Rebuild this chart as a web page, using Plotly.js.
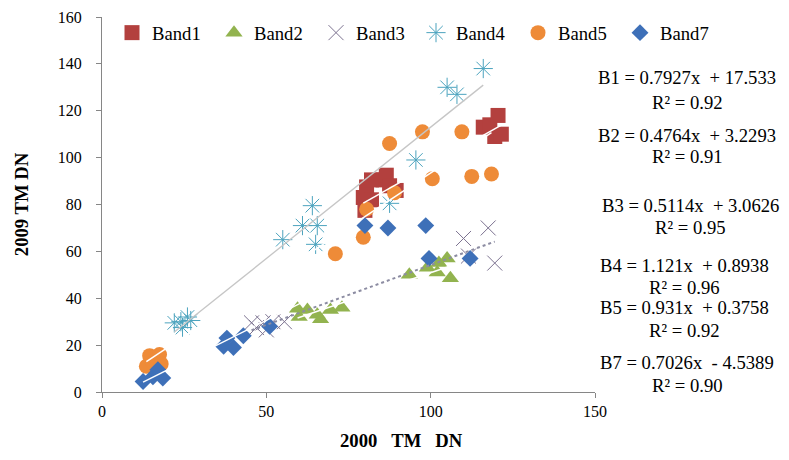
<!DOCTYPE html>
<html>
<head>
<meta charset="utf-8">
<script src="https://cdn.plot.ly/plotly-3.0.1.min.js"></script>
<style>html,body{margin:0;padding:0;background:#fff;}#chart{width:789px;height:460px;}</style>
</head>
<body>
<div id="chart"></div>
<script>
// ---- data ----
const band1X = [79.5, 80, 80.5, 82, 82, 85.5, 86.5, 87.5, 89.5, 116, 118, 120.5, 119.5, 121.5];
const band1Y = [83, 77.5, 87.5, 82, 90.5, 90.5, 92.5, 88, 86, 113, 114, 118, 109, 110];
const band2X = [59.5, 60, 62.5, 65.5, 66.5, 69.5, 73, 93.5, 99, 102, 102.5, 105, 106];
const band2Y = [35.5, 32, 35, 33, 31, 35, 36, 50, 53, 51, 55, 57, 48.5];
const band3X = [45.5, 47, 49, 50, 52, 55.5, 110, 117.5, 119.5, 111.5];
const band3Y = [29.5, 27.5, 29.5, 26.5, 30, 30, 65.5, 70, 55, 58];
const band4X = [22, 24, 24.5, 26, 27, 55, 61, 64, 65.5, 65, 87.5, 95.5, 105, 108, 116];
const band4Y = [29.5, 30, 27.5, 32, 30.5, 65, 71, 79.5, 71, 63, 80.5, 99, 130, 127, 138];
const band5X = [13.5, 14.5, 15.5, 16.5, 17.5, 18, 71, 79.5, 80.5, 87.5, 89, 97.5, 100.5, 109.5, 112.5, 118.5];
const band5Y = [11, 15.5, 12.5, 14, 16, 12, 59, 66, 78, 106, 85, 111, 91, 111, 92, 93];
const band7X = [12.5, 15.5, 17, 18.5, 37, 38, 40, 43, 51, 80, 87, 98.5, 99.5, 112];
const band7Y = [4.5, 6.5, 9.5, 6, 19.5, 23, 19, 24, 28, 71, 70, 71, 57, 57];

const bandNames = ['Band1', 'Band2', 'Band3', 'Band4', 'Band5', 'Band7'];
const eqLabels = ['B1', 'B2', 'B3', 'B4', 'B5', 'B7'];
const slopes = [0.7927, 0.4764, 0.5114, 1.121, 0.931, 0.7026];
const intercepts = [17.533, 3.2293, 3.0626, 0.8938, 0.3758, -4.5389];
const slopeText = ['0.7927', '0.4764', '0.5114', '1.121', '0.931', '0.7026'];
const interceptText = ['+ 17.533', '+ 3.2293', '+ 3.0626', '+ 0.8938', '+ 0.3758', '- 4.5389'];
const r2Text = ['0.92', '0.91', '0.95', '0.96', '0.92', '0.90'];

const xTickVals = [0, 50, 100, 150];
const yTickVals = [0, 20, 40, 60, 80, 100, 120, 140, 160];

// ---- styles ----
const allX = [band1X, band2X, band3X, band4X, band5X, band7X];
const allY = [band1Y, band2Y, band3Y, band4Y, band5Y, band7Y];
const markerStyles = [
  {symbol: 'square', size: 15, color: '#B3403E'},
  {symbol: 'triangle-up', size: 15, color: '#92B34F'},
  {symbol: 'x-thin-open', size: 15, color: '#7C7290', line: {width: 1, color: '#7C7290'}},
  {symbol: 'asterisk-open', size: 16, color: '#4BA3BE', line: {width: 1, color: '#4BA3BE'}},
  {symbol: 'circle', size: 15, color: '#EE8B38'},
  {symbol: 'diamond', size: 13, color: '#3E70B8'}
];
const legendOf = ['legend', 'legend', 'legend', 'legend2', 'legend2', 'legend2'];
const lineStyles = [
  {color: '#FFFFFF', width: 1.5},
  {color: '#FFFFFF', width: 1.5},
  {color: '#8C8CA2', width: 2, dash: 'dot'},
  {color: '#C6C6C6', width: 1.3},
  {color: '#FFFFFF', width: 1.5},
  {color: '#FFFFFF', width: 1.5}
];

const traces = [];
for (let i = 0; i < bandNames.length; i++) {
  traces.push({
    type: 'scatter', mode: 'markers', name: bandNames[i], legend: legendOf[i],
    x: allX[i], y: allY[i], marker: markerStyles[i]
  });
}
// trendlines (linear fits, across each series' x range)
for (let i = 0; i < bandNames.length; i++) {
  const x0 = Math.min(...allX[i]);
  const x1 = Math.max(...allX[i]);
  traces.push({
    type: 'scatter', mode: 'lines', showlegend: false, hoverinfo: 'skip',
    x: [x0, x1], y: [slopes[i] * x0 + intercepts[i], slopes[i] * x1 + intercepts[i]],
    line: lineStyles[i]
  });
}

// plot area: x 102..595 px, y 17..392 px
const L = 102, R = 595, T = 17, B = 392;
const px = v => (v - L) / (R - L);
const py = v => (B - v) / (B - T);
const serif = 'Liberation Serif, Times New Roman, serif';
const big = 18.67;

const eqRows = [[78, 102], [135, 157], [205, 227], [265, 287], [307, 330], [362, 385]];
const eqX = [687, 687, 690, 684, 684, 687];
const annotations = [];
for (let i = 0; i < eqLabels.length; i++) {
  annotations.push({
    xref: 'paper', yref: 'paper', x: px(eqX[i]), y: py(eqRows[i][0]),
    xanchor: 'center', yanchor: 'middle', showarrow: false,
    text: eqLabels[i] + ' = ' + slopeText[i] + 'x\u00a0 ' + interceptText[i],
    font: {family: serif, size: big, color: '#000'}
  });
  annotations.push({
    xref: 'paper', yref: 'paper', x: px(eqX[i]), y: py(eqRows[i][1]),
    xanchor: 'center', yanchor: 'middle', showarrow: false,
    text: 'R² = ' + r2Text[i],
    font: {family: serif, size: big, color: '#000'}
  });
}
annotations.push({
  xref: 'paper', yref: 'paper', x: px(401), y: py(440),
  xanchor: 'center', yanchor: 'middle', showarrow: false,
  text: '<b>2000\u00a0\u00a0\u00a0TM\u00a0\u00a0\u00a0DN</b>',
  font: {family: serif, size: big, color: '#000'}
});

const legendBase = {
  orientation: 'h', y: py(33), xanchor: 'left', yanchor: 'middle',
  bgcolor: 'rgba(0,0,0,0)', borderwidth: 0,
  font: {family: serif, size: big, color: '#000'},
  entrywidth: 57, entrywidthmode: 'pixels', tracegroupgap: 0
};

const layout = {
  width: 789, height: 460,
  margin: {l: L, r: 789 - R, t: T, b: 460 - B, pad: 0, autoexpand: false},
  paper_bgcolor: '#fff', plot_bgcolor: '#fff',
  font: {family: serif, size: 16, color: '#000'},
  showlegend: true,
  legend: Object.assign({}, legendBase, {x: px(112)}),
  legend2: Object.assign({}, legendBase, {x: px(416)}),
  xaxis: {
    range: [0, 150], tickvals: xTickVals, showgrid: false, zeroline: false,
    showline: true, linecolor: '#868686', linewidth: 1,
    ticks: 'outside', ticklen: 5, tickcolor: '#868686',
    tickfont: {family: serif, size: 16, color: '#000'}
  },
  yaxis: {
    range: [0, 160], tickvals: yTickVals, showgrid: false, zeroline: false,
    showline: true, linecolor: '#868686', linewidth: 1,
    ticks: 'outside', ticklen: 5, tickcolor: '#868686', ticklabelstandoff: 11,
    tickfont: {family: serif, size: 16, color: '#000'},
    title: {text: '<b>2009 TM DN</b>', font: {family: serif, size: big, color: '#000'}, standoff: 24}
  },
  annotations: annotations
};

Plotly.newPlot('chart', traces, layout, {displayModeBar: false, staticPlot: true});
</script>
</body>
</html>
